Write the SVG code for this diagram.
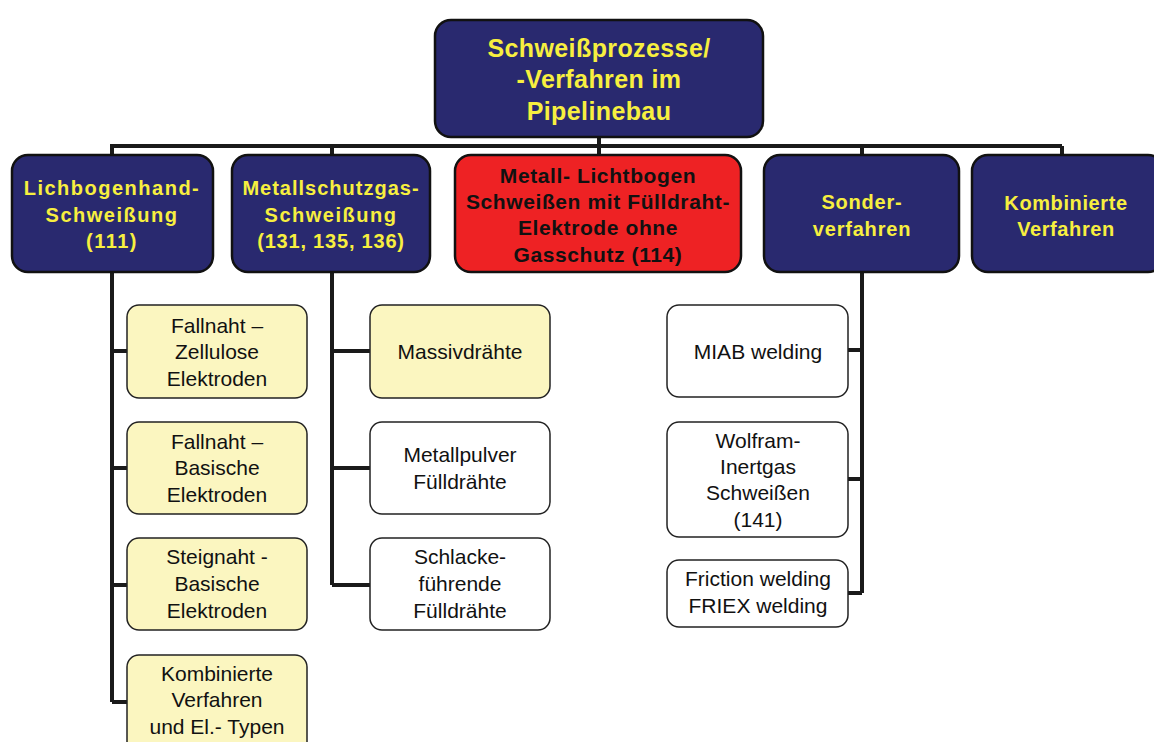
<svg xmlns="http://www.w3.org/2000/svg" width="1154" height="742" viewBox="0 0 1154 742">
<style>
.bg{fill:#ffffff}
.main{fill:#29296f;stroke:#111;stroke-width:2.5}
.red{fill:#ee2224;stroke:#111;stroke-width:2.5}
.yel{fill:#fbf6c0;stroke:#222;stroke-width:1.5}
.wht{fill:#ffffff;stroke:#222;stroke-width:1.5}
.ht{font-family:"Liberation Sans",Arial,sans-serif;font-weight:bold;fill:#f7ef3f;text-anchor:middle}
.rt{font-family:"Liberation Sans",Arial,sans-serif;font-weight:bold;fill:#111;text-anchor:middle;font-size:21px;letter-spacing:0.6px}
.st{font-family:"Liberation Sans",Arial,sans-serif;fill:#111;text-anchor:middle;font-size:21px}
.con{fill:none;stroke:#1a1a1a;stroke-width:4;stroke-linejoin:miter}
</style>
<rect class="bg" x="0" y="0" width="1154" height="742"/>
<g id="connectors">
<path class="con" d="M599 137 V146 M110 146 H1062 M112 146 V156 M332 146 V156 M599 146 V156 M862 146 V156 M1062 146 V156"/>
<path class="con" d="M112 272 V702 M112 351 H128 M112 468 H128 M112 585 H128 M112 702 H128"/>
<path class="con" d="M332 272 V585 M332 351 H371 M332 468 H371 M332 585 H371"/>
<path class="con" d="M862 272 V593 M848 350 H862 M848 479 H862 M848 593 H862"/>
</g>
<g id="root">
<rect class="main" x="435" y="20" width="328" height="117" rx="16"/>
<text class="ht" font-size="25" letter-spacing="0.4" x="599" y="57">Schweißprozesse/</text>
<text class="ht" font-size="25" letter-spacing="0.4" x="599" y="88">-Verfahren im</text>
<text class="ht" font-size="25" letter-spacing="0.4" x="599" y="120">Pipelinebau</text>
</g>
<g id="n111">
<rect class="main" x="12" y="155" width="201" height="117" rx="16"/>
<text class="ht" font-size="20" letter-spacing="1.5" x="112" y="195">Lichbogenhand-</text>
<text class="ht" font-size="20" letter-spacing="1.5" x="112" y="222">Schweißung</text>
<text class="ht" font-size="20" letter-spacing="1.5" x="112" y="248">(111)</text>
</g>
<g id="n131">
<rect class="main" x="232" y="155" width="198" height="117" rx="16"/>
<text class="ht" font-size="20" letter-spacing="1" x="331" y="195">Metallschutzgas-</text>
<text class="ht" font-size="20" letter-spacing="1.5" x="331" y="222">Schweißung</text>
<text class="ht" font-size="20" letter-spacing="0.8" x="331" y="248">(131, 135, 136)</text>
</g>
<g id="n114">
<rect class="red" x="455" y="155" width="286" height="117" rx="16"/>
<text class="rt" x="598" y="183">Metall- Lichtbogen</text>
<text class="rt" x="598" y="209">Schweißen mit Fülldraht-</text>
<text class="rt" x="598" y="235">Elektrode ohne</text>
<text class="rt" x="598" y="262">Gasschutz (114)</text>
</g>
<g id="sonder">
<rect class="main" x="764" y="155" width="195" height="117" rx="16"/>
<text class="ht" font-size="20" letter-spacing="0.8" x="862" y="209">Sonder-</text>
<text class="ht" font-size="20" letter-spacing="0.8" x="862" y="236">verfahren</text>
</g>
<g id="kombi">
<rect class="main" x="972" y="155" width="192" height="117" rx="16"/>
<text class="ht" font-size="20" letter-spacing="0.6" x="1066" y="210">Kombinierte</text>
<text class="ht" font-size="20" letter-spacing="0.6" x="1066" y="236">Verfahren</text>
</g>
<g id="y1">
<rect class="yel" x="127" y="305" width="180" height="93" rx="12"/>
<text class="st" x="217" y="333">Fallnaht –</text>
<text class="st" x="217" y="359">Zellulose</text>
<text class="st" x="217" y="386">Elektroden</text>
</g>
<g id="y2">
<rect class="yel" x="127" y="422" width="180" height="92" rx="12"/>
<text class="st" x="217" y="449">Fallnaht –</text>
<text class="st" x="217" y="475">Basische</text>
<text class="st" x="217" y="502">Elektroden</text>
</g>
<g id="y3">
<rect class="yel" x="127" y="538" width="180" height="92" rx="12"/>
<text class="st" x="217" y="564">Steignaht -</text>
<text class="st" x="217" y="591">Basische</text>
<text class="st" x="217" y="618">Elektroden</text>
</g>
<g id="y4">
<rect class="yel" x="127" y="655" width="180" height="100" rx="12"/>
<text class="st" x="217" y="681">Kombinierte</text>
<text class="st" x="217" y="707">Verfahren</text>
<text class="st" x="217" y="734">und El.- Typen</text>
</g>
<g id="massiv">
<rect class="yel" x="370" y="305" width="180" height="93" rx="12"/>
<text class="st" x="460" y="359">Massivdrähte</text>
</g>
<g id="pulver">
<rect class="wht" x="370" y="422" width="180" height="92" rx="12"/>
<text class="st" x="460" y="462">Metallpulver</text>
<text class="st" x="460" y="489">Fülldrähte</text>
</g>
<g id="schlacke">
<rect class="wht" x="370" y="538" width="180" height="92" rx="12"/>
<text class="st" x="460" y="564">Schlacke-</text>
<text class="st" x="460" y="591">führende</text>
<text class="st" x="460" y="618">Fülldrähte</text>
</g>
<g id="miab">
<rect class="wht" x="667" y="305" width="181" height="92" rx="12"/>
<text class="st" x="758" y="359">MIAB welding</text>
</g>
<g id="wig">
<rect class="wht" x="667" y="422" width="181" height="115" rx="12"/>
<text class="st" x="758" y="448">Wolfram-</text>
<text class="st" x="758" y="474">Inertgas</text>
<text class="st" x="758" y="500">Schweißen</text>
<text class="st" x="758" y="527">(141)</text>
</g>
<g id="friction">
<rect class="wht" x="667" y="560" width="181" height="67" rx="12"/>
<text class="st" x="758" y="586">Friction welding</text>
<text class="st" x="758" y="613">FRIEX welding</text>
</g>
</svg>
